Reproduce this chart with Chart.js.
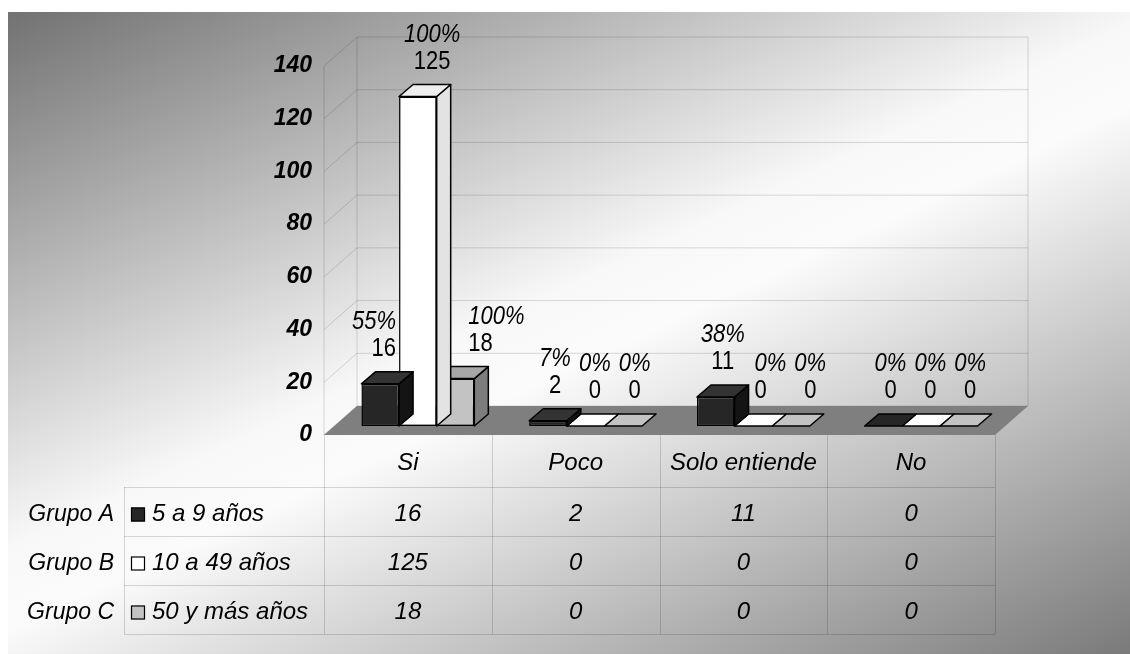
<!DOCTYPE html>
<html lang="es">
<head>
<meta charset="utf-8">
<title>Grupos de edad</title>
<script src="https://cdn.jsdelivr.net/npm/chart.js@4.4.1/dist/chart.umd.min.js"></script>
<style>
  html, body { margin: 0; padding: 0; background: #fff; }
  #wrap { width: 1130px; height: 654px; }
</style>
</head>
<body>
<div id="wrap"><canvas id="chart" width="1130" height="654"></canvas></div>
<script>
// datos
const categories = ['Si', 'Poco', 'Solo entiende', 'No'];
const groupNames = ['Grupo A', 'Grupo B', 'Grupo C'];
const ageRanges = ['5 a 9 años', '10 a 49 años', '50 y más años'];
const grupoA = [16, 2, 11, 0];
const grupoB = [125, 0, 0, 0];
const grupoC = [18, 0, 0, 0];
const yTicks = [0, 20, 40, 60, 80, 100, 120, 140];

const series = [grupoA, grupoB, grupoC];
const totals = series.map(s => s.reduce((a, b) => a + b, 0));

// colores de cada serie: frente, tapa, lateral
const palette = [
    { front: '#262626', top: '#333333', side: '#141414' },
    { front: '#ffffff', top: '#eeeeee', side: '#e3e3e3' },
    { front: '#c3c3c3', top: '#a7a7a7', side: '#7d7d7d' }
];

// desplazamientos de la perspectiva (respecto al plano frontal de las barras)
const DEPTH = { bar: [14, -12], front: [-10, 9], back: [23, -20] };
const FONT = '"Liberation Sans", Arial, sans-serif';

function poly(ctx, pts, fill, stroke) {
    ctx.beginPath();
    ctx.moveTo(pts[0][0], pts[0][1]);
    for (let i = 1; i < pts.length; i++) ctx.lineTo(pts[i][0], pts[i][1]);
    ctx.closePath();
    if (fill) { ctx.fillStyle = fill; ctx.fill(); }
    if (stroke) { ctx.strokeStyle = stroke; ctx.stroke(); }
}

function stretchedText(ctx, text, x, y, align, font) {
    ctx.save();
    ctx.font = font;
    ctx.textAlign = align;
    ctx.textBaseline = 'middle';
    ctx.translate(x, y);
    ctx.scale(1, 1.2);
    ctx.fillText(text, 0, 0);
    ctx.restore();
}

// fondo degradado del panel
const backdrop = {
    id: 'backdrop',
    beforeDraw(chart) {
        const { ctx, width, height } = chart;
        ctx.save();
        ctx.fillStyle = '#fff';
        ctx.fillRect(0, 0, width, height);
        const g = ctx.createLinearGradient(8, 12, 455, 969);
        g.addColorStop(0, '#727272');
        g.addColorStop(0.22, '#b2b2b2');
        g.addColorStop(0.46, '#f8f8f8');
        g.addColorStop(0.53, '#fbfbfb');
        g.addColorStop(1, '#7a7a7a');
        ctx.fillStyle = g;
        ctx.fillRect(8, 12, width - 8, height - 12);
        ctx.restore();
    }
};

// paredes, cuadrícula y piso
const box = {
    id: 'box',
    beforeDatasetsDraw(chart) {
        const { ctx, chartArea: a, scales: { y } } = chart;
        const [fx, fy] = DEPTH.front, [bx, by] = DEPTH.back;
        const y0 = y.getPixelForValue(0), yTop = y.getPixelForValue(yTicks[yTicks.length - 1]);
        ctx.save();
        ctx.lineWidth = 1;
        ctx.strokeStyle = 'rgba(0,0,0,0.14)';
        y.ticks.forEach(t => {
            const py = y.getPixelForValue(t.value);
            ctx.beginPath();
            ctx.moveTo(a.left + fx, py + fy);
            ctx.lineTo(a.left + bx, py + by);
            ctx.lineTo(a.right + bx, py + by);
            ctx.stroke();
        });
        ctx.beginPath();
        ctx.moveTo(a.left + fx, yTop + fy); ctx.lineTo(a.left + fx, y0 + fy);
        ctx.moveTo(a.left + bx, yTop + by); ctx.lineTo(a.left + bx, y0 + by);
        ctx.moveTo(a.right + bx, yTop + by); ctx.lineTo(a.right + bx, y0 + by);
        ctx.stroke();
        poly(ctx, [
            [a.left + fx, y0 + fy], [a.right + fx, y0 + fy],
            [a.right + bx, y0 + by], [a.left + bx, y0 + by]
        ], '#7f7f7f');
        ctx.restore();
    }
};

// tapa y lateral de cada barra
const bars3d = {
    id: 'bars3d',
    afterDatasetDraw(chart, args) {
        const { ctx } = chart;
        const col = palette[args.index];
        const [dx, dy] = DEPTH.bar;
        ctx.save();
        ctx.lineWidth = 1.5;
        ctx.lineJoin = 'round';
        args.meta.data.forEach((bar, i) => {
            const { x, y, base, width } = bar.getProps(['x', 'y', 'base', 'width'], true);
            const l = x - width / 2, r = x + width / 2;
            const flat = series[args.index][i] === 0;
            if (!flat) {
                poly(ctx, [[r, y], [r + dx, y + dy], [r + dx, base + dy], [r, base]], col.side, '#000');
            }
            poly(ctx, [[l, y], [r, y], [r + dx, y + dy], [l + dx, y + dy]], flat ? col.front : col.top, '#000');
        });
        ctx.restore();
    }
};

// etiquetas de porcentaje y valor sobre las barras
const barLabels = {
    id: 'barLabels',
    afterDatasetsDraw(chart) {
        const { ctx } = chart;
        const [dx] = DEPTH.bar;
        const metas = series.map((s, i) => chart.getDatasetMeta(i));
        const valFont = '22px ' + FONT, pctFont = 'italic 22px ' + FONT;
        const gap = 8;
        ctx.save();
        ctx.fillStyle = '#000';
        categories.forEach((c, ci) => {
            let lastRight = -Infinity;
            metas.forEach((meta, di) => {
                const bar = meta.data[ci];
                const val = String(series[di][ci]);
                const pct = Math.round(series[di][ci] / totals[di] * 100) + '%';
                const vy = bar.y - 35, py = vy - 27;
                ctx.font = pctFont;
                const wp = ctx.measureText(pct).width;
                ctx.font = valFont;
                const w = Math.max(wp, ctx.measureText(val).width);
                let align = 'center', ax = bar.x + dx / 2;
                let left = ax - w / 2;
                // se aparta de una barra vecina más alta
                const next = metas[di + 1] && metas[di + 1].data[ci];
                const prev = metas[di - 1] && metas[di - 1].data[ci];
                if (next && next.y < vy + 12 && ax + w / 2 > next.x - next.width / 2 - 3) {
                    align = 'right'; ax = next.x - next.width / 2 - 3; left = ax - w;
                } else if (prev && prev.y < vy + 12 && left < prev.x + prev.width / 2 + dx + 6) {
                    align = 'left'; ax = prev.x + prev.width / 2 + dx + 6; left = ax;
                }
                // y de la etiqueta anterior
                if (left < lastRight + gap) {
                    const shift = lastRight + gap - left;
                    ax += shift; left += shift;
                }
                lastRight = left + w;
                stretchedText(ctx, pct, ax, py, align, pctFont);
                stretchedText(ctx, val, ax, vy, align, valFont);
            });
        });
        ctx.restore();
    }
};

// tabla de datos bajo el gráfico
const dataTable = {
    id: 'dataTable',
    afterDraw(chart) {
        const { ctx, chartArea: a, scales: { x, y } } = chart;
        const [fx, fy] = DEPTH.front;
        const left = a.left + fx, right = a.right + fx;
        const colW = (right - left) / categories.length;
        const top = y.getPixelForValue(0) + fy;
        const headH = 52, rowH = 49;
        const legLeft = 124;
        const rowTop = top + headH;
        const bottom = rowTop + rowH * series.length;
        ctx.save();
        ctx.lineWidth = 1;
        ctx.strokeStyle = 'rgba(0,0,0,0.15)';
        ctx.beginPath();
        for (let i = 0; i <= categories.length; i++) {
            const cx = Math.round(left + colW * i) + 0.5;
            ctx.moveTo(cx, top); ctx.lineTo(cx, bottom);
        }
        ctx.moveTo(legLeft + 0.5, rowTop); ctx.lineTo(legLeft + 0.5, bottom);
        for (let r = 0; r <= series.length; r++) {
            const ry = Math.round(rowTop + rowH * r) + 0.5;
            ctx.moveTo(legLeft, ry); ctx.lineTo(right, ry);
        }
        ctx.stroke();

        ctx.fillStyle = '#000';
        ctx.textBaseline = 'middle';
        ctx.font = 'italic 24px ' + FONT;
        ctx.textAlign = 'center';
        categories.forEach((c, i) => {
            const cx = x.getPixelForValue(i) + fx;
            ctx.fillText(c, cx, top + headH / 2 + 2);
            series.forEach((s, r) => ctx.fillText(String(s[i]), cx, rowTop + rowH * r + rowH / 2 + 3));
        });
        series.forEach((s, r) => {
            const cy = rowTop + rowH * r + rowH / 2 + 3;
            ctx.font = 'italic 23px ' + FONT;
            ctx.textAlign = 'right';
            ctx.fillStyle = '#000';
            ctx.fillText(groupNames[r], 114, cy);
            ctx.lineWidth = 1.2;
            ctx.strokeStyle = '#000';
            ctx.fillStyle = palette[r].front;
            ctx.fillRect(131, cy - 7, 14, 14);
            ctx.strokeRect(131.5, cy - 6.5, 13, 13);
            ctx.fillStyle = '#000';
            ctx.font = 'italic 24px ' + FONT;
            ctx.textAlign = 'left';
            ctx.fillText(ageRanges[r], 152, cy);
        });
        ctx.restore();
    }
};

new Chart(document.getElementById('chart'), {
    type: 'bar',
    data: {
        labels: categories,
        datasets: series.map((s, i) => ({
            label: ageRanges[i],
            data: s,
            backgroundColor: palette[i].front,
            borderColor: '#000',
            borderWidth: 1.5,
            borderSkipped: false,
            inflateAmount: 0,
            barPercentage: 1,
            categoryPercentage: 0.673
        }))
    },
    options: {
        responsive: false,
        devicePixelRatio: 1,
        animation: false,
        layout: { padding: { left: 0, top: 57, right: 125, bottom: 228 } },
        plugins: { legend: { display: false }, tooltip: { enabled: false } },
        scales: {
            x: { display: false },
            y: {
                min: yTicks[0],
                max: yTicks[yTicks.length - 1],
                afterFit: s => { s.width = 334; },
                grid: { display: false, drawTicks: false },
                border: { display: false },
                ticks: {
                    stepSize: yTicks[1] - yTicks[0],
                    padding: 22,
                    labelOffset: 9,
                    color: '#000',
                    font: { family: FONT, size: 23, style: 'italic', weight: 'bold' }
                }
            }
        }
    },
    plugins: [backdrop, box, bars3d, barLabels, dataTable]
});
</script>
</body>
</html>
